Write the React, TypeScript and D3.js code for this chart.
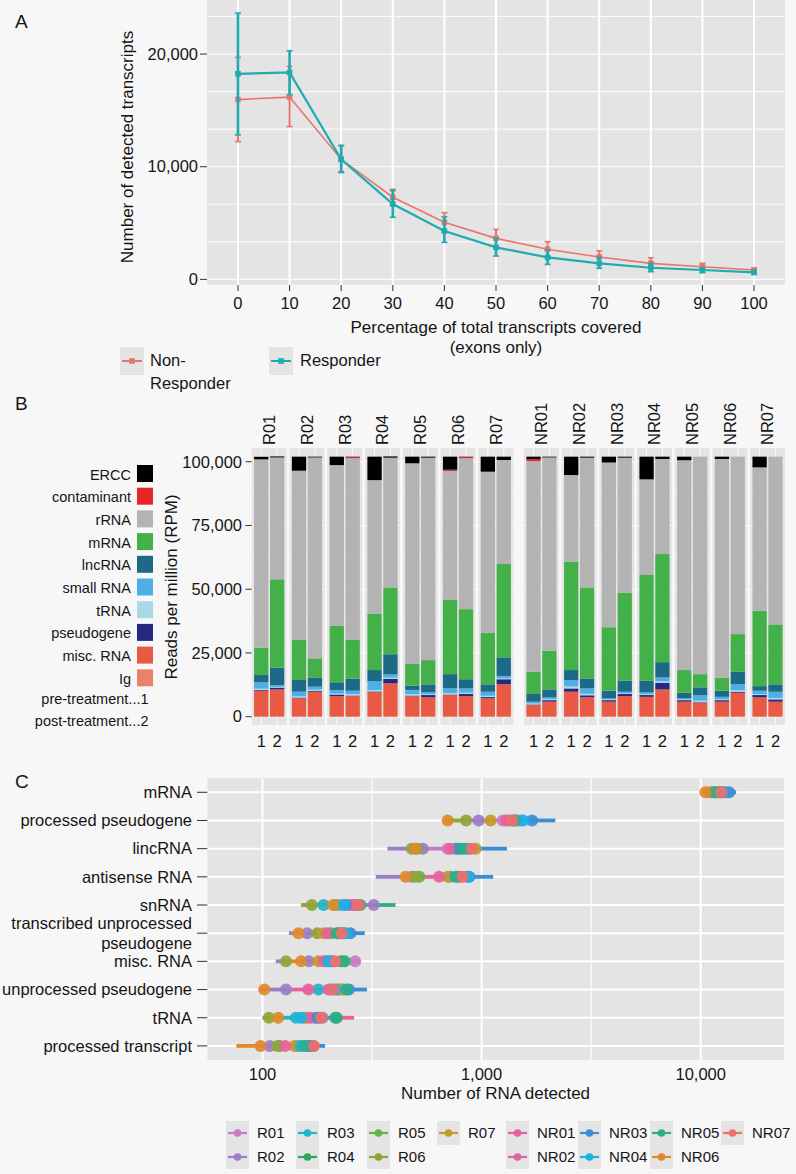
import React from "react";
import * as d3 from "d3";

const FONT = "'Liberation Sans', Arial, Helvetica, sans-serif";
const BG = "#f7f7f7";
const PANEL = "#e4e4e4";
const TXT = "#151515";
const TICK = "#333333";

// ---------------- Panel A data ----------------
const coveragePct = [0, 10, 20, 30, 40, 50, 60, 70, 80, 90, 100];
const groupNames = ["Non-Responder", "Responder"];
const groupColors = ["#e8756d", "#1fabb0"];
const nonResponderMean = [15960, 16180, 10660, 7290, 5070, 3640, 2670, 1980, 1420, 1120, 830];
const nonResponderLow = [12230, 13560, 9560, 6600, 4230, 2900, 2010, 1420, 980, 830, 650];
const nonResponderHigh = [19700, 18900, 11860, 8000, 5920, 4440, 3340, 2540, 1920, 1420, 1000];
const responderMean = [18250, 18370, 10660, 6690, 4290, 2840, 1950, 1420, 1030, 830, 620];
const responderLow = [12830, 16400, 9480, 5510, 3290, 2070, 1330, 980, 680, 590, 440];
const responderHigh = [23640, 20290, 11900, 7880, 5560, 3640, 2600, 1950, 1420, 1030, 800];
const yTicksA = [0, 10000, 20000];

// ---------------- Panel B data ----------------
const responderIds = ["R01", "R02", "R03", "R04", "R05", "R06", "R07"];
const nonResponderIds = ["NR01", "NR02", "NR03", "NR04", "NR05", "NR06", "NR07"];
const timepoints = ["1", "2"];
const rnaClasses = ["ERCC", "contaminant", "rRNA", "mRNA", "lncRNA", "small RNA", "tRNA", "pseudogene", "misc. RNA", "Ig"];
const rnaClassColors = ["#000000", "#e8262a", "#b3b3b3", "#44b04a", "#1d6a86", "#4eaee6", "#a7d9e6", "#27287f", "#e85a43", "#e8826a"];
const timepointNotes = ["pre-treatment...1", "post-treatment...2"];
// bar order: R01-1, R01-2, R02-1, ... NR07-2
const erccRPM = [1000, 400, 5500, 300, 3300, 100, 9200, 500, 2600, 400, 5100, 100, 5900, 1300, 900, 300, 7200, 400, 2300, 400, 8900, 900, 1400, 0, 900, 0, 4200, 0];
const contaminantRPM = [0, 0, 0, 0, 0, 500, 0, 0, 0, 0, 500, 500, 0, 0, 800, 0, 0, 0, 0, 0, 0, 0, 0, 0, 0, 0, 0, 0];
const rrnaRPM = [73900, 47800, 66400, 78800, 63100, 71300, 52500, 50900, 78700, 79400, 50600, 59200, 63100, 40800, 82700, 75800, 34000, 50900, 64600, 53000, 37500, 37300, 82300, 85300, 85800, 69600, 56200, 65800];
const mrnaRPM = [10700, 34700, 15700, 7500, 22100, 15200, 22000, 26200, 8500, 9500, 29100, 27500, 20300, 36600, 8700, 15200, 42500, 35700, 24900, 34500, 41500, 42400, 8900, 5200, 5100, 14800, 29600, 23500];
const lncrnaRPM = [2850, 6800, 4600, 3600, 3000, 4700, 4300, 7900, 1700, 3100, 5600, 3600, 2900, 7300, 3000, 3100, 3900, 3900, 3000, 4300, 4500, 6000, 2200, 3100, 2400, 4900, 1800, 2900];
const smallRnaRPM = [2500, 700, 1800, 1200, 1400, 1300, 3500, 1300, 1600, 800, 1800, 1700, 1600, 900, 700, 700, 2500, 2100, 400, 600, 700, 1500, 400, 2100, 900, 2300, 1300, 2400];
const trnaRPM = [500, 300, 500, 500, 400, 600, 600, 500, 600, 300, 600, 500, 500, 400, 400, 400, 800, 600, 300, 300, 400, 600, 300, 600, 400, 600, 400, 600];
const pseudogeneRPM = [300, 700, 300, 300, 600, 200, 300, 1700, 200, 900, 200, 800, 500, 2000, 200, 600, 1300, 800, 600, 800, 700, 2600, 600, 200, 600, 400, 900, 900];
const miscRnaRPM = [10200, 10700, 7200, 9800, 8100, 8100, 9600, 13100, 8100, 7600, 8500, 8100, 7200, 12700, 4600, 5900, 9800, 7600, 5900, 8100, 7800, 10700, 5900, 5500, 5900, 9400, 7600, 5900];
const igRPM = [0, 0, 0, 0, 0, 0, 0, 0, 0, 0, 0, 0, 0, 0, 0, 0, 0, 0, 0, 0, 0, 0, 0, 0, 0, 0, 0, 0];
const yTicksB = [0, 25000, 50000, 75000, 100000];

// ---------------- Panel C data ----------------
const rnaTypes = ["mRNA", "processed pseudogene", "lincRNA", "antisense RNA", "snRNA", "transcribed unprocessed pseudogene", "misc. RNA", "unprocessed pseudogene", "tRNA", "processed transcript"];
const rnaTypeLabels = [["mRNA"], ["processed pseudogene"], ["lincRNA"], ["antisense RNA"], ["snRNA"], ["transcribed unprocessed", "pseudogene"], ["misc. RNA"], ["unprocessed pseudogene"], ["tRNA"], ["processed transcript"]];
const sampleIds = ["R01", "R02", "R03", "R04", "R05", "R06", "R07", "NR01", "NR02", "NR03", "NR04", "NR05", "NR06", "NR07"];
const sampleColors = ["#c77dc4", "#9c7dc8", "#22b5c5", "#2aa85c", "#5eb548", "#8fa637", "#c49a2c", "#e8619b", "#d866a7", "#3b8ed6", "#1db1e6", "#28b08a", "#e08a2a", "#ef6f6a"];
const mrnaDetected = [12000, 11500, 12200, 12300, 11800, 11000, 11200, 12800, 13000, 13500, 12600, 11600, 10500, 12400];
const processedPseudogeneDetected = [1250, 970, 1500, 1400, 1350, 850, 1100, 1300, 1450, 1700, 1550, 1420, 700, 1380];
const lincRnaDetected = [700, 540, 760, 780, 510, 480, 940, 720, 870, 800, 850, 820, 500, 900];
const antisenseDetected = [850, 480, 720, 780, 520, 500, 700, 640, 800, 880, 870, 760, 450, 820];
const snRnaDetected = [225, 322, 190, 265, 215, 168, 270, 250, 260, 240, 235, 280, 210, 275];
const transcribedUnprocessedDetected = [232, 160, 225, 222, 205, 178, 190, 198, 236, 252, 240, 218, 146, 230];
const miscRnaDetected = [265, 163, 195, 228, 238, 128, 180, 190, 208, 205, 200, 235, 150, 215];
const unprocessedPseudogeneDetected = [205, 128, 180, 220, 225, 235, 230, 162, 200, 248, 215, 242, 102, 210];
const trnaDetected = [172, 188, 142, 218, 155, 107, 160, 165, 180, 178, 150, 215, 118, 185];
const processedTranscriptDetected = [158, 108, 145, 170, 120, 117, 140, 127, 160, 165, 150, 155, 98, 172];
const rangeLowValue = [10200, 680, 372, 329, 150, 132, 115, 96, 100, 76];
const rangeLowSample = ["NR06", "NR06", "R02", "R02", "R06", "R02", "R02", "NR01", "R06", "NR06"];
const rangeHighValue = [14500, 2170, 1306, 1130, 405, 293, 279, 300, 262, 193];
const rangeHighSample = ["NR03", "NR03", "NR03", "NR03", "NR05", "NR03", "R01", "NR03", "NR01", "NR03"];
const xTicksC = [100, 1000, 10000];

export default function App() {
  // ===== Panel A =====
  const xA = d3.scaleLinear().domain([-6, 106]).range([207, 785]);
  const yA = d3.scaleLinear().domain([-500, 24800]).range([285, 0]);
  const groupsA = [
    { mean: nonResponderMean, lo: nonResponderLow, hi: nonResponderHigh, color: groupColors[0], lw: 1.6, ew: 2 },
    { mean: responderMean, lo: responderLow, hi: responderHigh, color: groupColors[1], lw: 2.2, ew: 2.6 },
  ];
  const lineA = d3.line<[number, number]>().x((d) => xA(d[0])).y((d) => yA(d[1]));
  const gridA = d3.range(0, 24800, 10000 / 3);

  // ===== Panel B =====
  const yB = d3.scaleLinear().domain([-3250, 105400]).range([725, 448]);
  const rFacet = d3.scaleBand<string>().domain(responderIds).range([251.7, 513.3]).paddingInner(0.0733);
  const nrFacet = d3.scaleBand<string>().domain(nonResponderIds).range([524, 785]).paddingInner(0.0733);
  const facets = [
    ...responderIds.map((id) => ({ id, x0: rFacet(id) as number, w: rFacet.bandwidth() })),
    ...nonResponderIds.map((id) => ({ id, x0: nrFacet(id) as number, w: nrFacet.bandwidth() })),
  ];
  const seriesByClass: Record<string, number[]> = {
    ERCC: erccRPM, contaminant: contaminantRPM, rRNA: rrnaRPM, mRNA: mrnaRPM, lncRNA: lncrnaRPM,
    "small RNA": smallRnaRPM, tRNA: trnaRPM, pseudogene: pseudogeneRPM, "misc. RNA": miscRnaRPM, Ig: igRPM,
  };
  const stackKeys = [...rnaClasses].reverse();
  const rows = erccRPM.map((_, k) => {
    const r: Record<string, number> = {};
    rnaClasses.forEach((c) => (r[c] = seriesByClass[c][k]));
    return r;
  });
  const stacked = d3.stack<Record<string, number>>().keys(stackKeys)(rows);
  const colorOf = (c: string) => rnaClassColors[rnaClasses.indexOf(c)];
  const gridB = d3.range(0, 105400, 12500);

  // ===== Panel C =====
  const xC = d3.scaleLog().domain([56, 24000]).range([207.3, 784]);
  const yC = d3.scaleBand<string>().domain(rnaTypes).range([778.2, 1060]);
  const detected = [mrnaDetected, processedPseudogeneDetected, lincRnaDetected, antisenseDetected, snRnaDetected, transcribedUnprocessedDetected, miscRnaDetected, unprocessedPseudogeneDetected, trnaDetected, processedTranscriptDetected];
  const gridCMajor = [100, 1000, 10000];
  const gridCMinor = [Math.pow(10, 2.5), Math.pow(10, 3.5)];
  const sampleColor = (id: string) => sampleColors[sampleIds.indexOf(id)];
  const legendCols: (string | null)[][] = [
    ...d3.range(0, responderIds.length, 2).map((i) => [responderIds[i], responderIds[i + 1] ?? null]),
    ...d3.range(0, nonResponderIds.length, 2).map((i) => [nonResponderIds[i], nonResponderIds[i + 1] ?? null]),
  ];
  const legendColX = [226, 296, 367, 437, 506, 578, 650, 721];
  const fmt = d3.format(",");

  const tickFont = 16.5;

  return (
    <svg width={796} height={1174} style={{ position: "absolute", left: 0, top: 0, display: "block" }} fontFamily={FONT}>
      <rect x={0} y={0} width={796} height={1174} fill={BG} />

      {/* ================= PANEL A ================= */}
      <text x={15} y={28} fontSize={19} fill={TXT}>A</text>
      <rect x={207} y={0} width={578} height={285} fill={PANEL} />
      {gridA.map((v, i) => (
        <line key={"ga" + i} x1={207} x2={785} y1={yA(v)} y2={yA(v)} stroke="#fff" strokeWidth={1.2} opacity={0.85} />
      ))}
      {coveragePct.map((c) => (
        <line key={"gva" + c} x1={xA(c)} x2={xA(c)} y1={0} y2={285} stroke="#fff" strokeWidth={2} />
      ))}
      {groupsA.map((g, gi) => (
        <g key={"grpA" + gi}>
          <path d={lineA(coveragePct.map((c, i) => [c, g.mean[i]] as [number, number])) || ""} fill="none" stroke={g.color} strokeWidth={g.lw} />
          {coveragePct.map((c, i) => (
            <g key={"eb" + i}>
              <line x1={xA(c)} x2={xA(c)} y1={yA(g.lo[i])} y2={yA(g.hi[i])} stroke={g.color} strokeWidth={g.ew} />
              <line x1={xA(c) - 3} x2={xA(c) + 3} y1={yA(g.lo[i])} y2={yA(g.lo[i])} stroke={g.color} strokeWidth={1.6} />
              <line x1={xA(c) - 3} x2={xA(c) + 3} y1={yA(g.hi[i])} y2={yA(g.hi[i])} stroke={g.color} strokeWidth={1.6} />
              <rect x={xA(c) - 2.8} y={yA(g.mean[i]) - 2.8} width={5.6} height={5.6} fill={g.color} />
            </g>
          ))}
        </g>
      ))}
      {yTicksA.map((v) => (
        <g key={"yta" + v}>
          <line x1={200} x2={207} y1={yA(v)} y2={yA(v)} stroke={TICK} />
          <text x={198} y={yA(v)} dy="0.35em" textAnchor="end" fontSize={tickFont} fill={TXT}>{fmt(v)}</text>
        </g>
      ))}
      {coveragePct.map((c) => (
        <g key={"xta" + c}>
          <line x1={xA(c)} x2={xA(c)} y1={285} y2={291} stroke={TICK} />
          <text x={xA(c)} y={309} textAnchor="middle" fontSize={tickFont} fill={TXT}>{c}</text>
        </g>
      ))}
      <text transform={`translate(133,147) rotate(-90)`} textAnchor="middle" fontSize={17} fill={TXT}>Number of detected transcripts</text>
      <text x={496} y={333} textAnchor="middle" fontSize={17} fill={TXT}>Percentage of total transcripts covered</text>
      <text x={496} y={353} textAnchor="middle" fontSize={17} fill={TXT}>(exons only)</text>
      {/* legend A */}
      {groupNames.map((name, gi) => {
        const kx = gi === 0 ? 120 : 269;
        return (
          <g key={"lgA" + gi}>
            <rect x={kx} y={347} width={24} height={28} fill={PANEL} />
            <line x1={kx + 2} x2={kx + 22} y1={361} y2={361} stroke={groupColors[gi]} strokeWidth={2} />
            <rect x={kx + 9.2} y={358.2} width={5.6} height={5.6} fill={groupColors[gi]} />
            {gi === 0 ? (
              <>
                <text x={150} y={366} fontSize={tickFont} fill={TXT}>Non-</text>
                <text x={150} y={389} fontSize={tickFont} fill={TXT}>Responder</text>
              </>
            ) : (
              <text x={300} y={366} fontSize={tickFont} fill={TXT}>{name}</text>
            )}
          </g>
        );
      })}

      {/* ================= PANEL B ================= */}
      <text x={15} y={410} fontSize={19} fill={TXT}>B</text>
      {facets.map((f, fi) => {
        const xIn = d3.scaleLinear().domain([0.4, 2.6]).range([f.x0, f.x0 + f.w]);
        return (
          <g key={"fac" + f.id}>
            <rect x={f.x0} y={448} width={f.w} height={277} fill={PANEL} />
            {gridB.map((v, i) => (
              <line key={"gb" + i} x1={f.x0} x2={f.x0 + f.w} y1={yB(v)} y2={yB(v)} stroke="#fff" strokeWidth={i % 2 === 0 ? 1.1 : 0.6} opacity={0.8} />
            ))}
            {[1, 2].map((t) => (
              <line key={"gvb" + t} x1={xIn(t)} x2={xIn(t)} y1={448} y2={725} stroke="#fff" strokeWidth={1.1} opacity={0.8} />
            ))}
            {timepoints.map((tp, ti) => {
              const k = fi * 2 + ti;
              const bx = xIn(ti + 1 - 0.45);
              const bw = xIn(ti + 1 + 0.45) - bx;
              return (
                <g key={"bar" + k}>
                  {stacked.map((s) => {
                    const d = s[k];
                    const h = yB(d[0]) - yB(d[1]);
                    if (h <= 0) return null;
                    return <rect key={s.key} x={bx} y={yB(d[1])} width={bw} height={h} fill={colorOf(s.key)} />;
                  })}
                  <text x={xIn(ti + 1)} y={747} textAnchor="middle" fontSize={tickFont} fill={TXT}>{tp}</text>
                </g>
              );
            })}
            <text transform={`translate(${f.x0 + f.w / 2},445) rotate(-90)`} dy="0.35em" textAnchor="start" fontSize={tickFont} fill={TXT}>{f.id}</text>
          </g>
        );
      })}
      {yTicksB.map((v) => (
        <g key={"ytb" + v}>
          <line x1={245.5} x2={251.7} y1={yB(v)} y2={yB(v)} stroke={TICK} />
          <text x={242} y={yB(v)} dy="0.35em" textAnchor="end" fontSize={tickFont} fill={TXT}>{fmt(v)}</text>
        </g>
      ))}
      <text transform={`translate(177,587) rotate(-90)`} textAnchor="middle" fontSize={17} fill={TXT}>Reads per million (RPM)</text>
      {/* legend B */}
      {rnaClasses.map((c, i) => {
        const top = 465 + i * 22.7;
        return (
          <g key={"lgB" + c}>
            <rect x={137} y={top} width={16} height={17} fill={rnaClassColors[i]} />
            <text x={131} y={top + 14.5} textAnchor="end" fontSize={14.5} fill={TXT}>{c}</text>
          </g>
        );
      })}
      {timepointNotes.map((t, i) => (
        <text key={"tpn" + i} x={148.5} y={703.5 + i * 22.5} textAnchor="end" fontSize={14.5} fill={TXT}>{t}</text>
      ))}

      {/* ================= PANEL C ================= */}
      <text x={15} y={788} fontSize={19} fill={TXT}>C</text>
      <rect x={207.3} y={778.2} width={576.7} height={281.8} fill={PANEL} />
      {gridCMinor.map((v, i) => (
        <line key={"gcm" + i} x1={xC(v)} x2={xC(v)} y1={778.2} y2={1060} stroke="#fff" strokeWidth={1.3} opacity={0.9} />
      ))}
      {gridCMajor.map((v) => (
        <line key={"gcM" + v} x1={xC(v)} x2={xC(v)} y1={778.2} y2={1060} stroke="#fff" strokeWidth={2} />
      ))}
      {rnaTypes.map((t) => {
        const cy = (yC(t) as number) + yC.bandwidth() / 2;
        return <line key={"gch" + t} x1={207.3} x2={784} y1={cy} y2={cy} stroke="#fff" strokeWidth={2} />;
      })}
      {rnaTypes.map((t, r) => {
        const cy = (yC(t) as number) + yC.bandwidth() / 2;
        const vals = detected[r];
        const order = d3.range(vals.length).sort((a, b) => vals[a] - vals[b]);
        const segs: { a: number; b: number; c: string }[] = [];
        segs.push({ a: rangeLowValue[r], b: vals[order[0]], c: sampleColor(rangeLowSample[r]) });
        segs.push({ a: vals[order[order.length - 1]], b: rangeHighValue[r], c: sampleColor(rangeHighSample[r]) });
        for (let k = 1; k < order.length; k++) segs.push({ a: vals[order[k - 1]], b: vals[order[k]], c: sampleColors[order[k]] });
        return (
          <g key={"rowC" + t}>
            {segs.map((s, i) => (
              <line key={"sg" + i} x1={xC(s.a)} x2={xC(s.b)} y1={cy} y2={cy} stroke={s.c} strokeWidth={3.8} />
            ))}
            {vals.map((v, i) => (
              <circle key={"pt" + i} cx={xC(v)} cy={cy} r={6} fill={sampleColors[i]} opacity={0.92} />
            ))}
          </g>
        );
      })}
      {rnaTypes.map((t, r) => {
        const cy = (yC(t) as number) + yC.bandwidth() / 2;
        const lines = rnaTypeLabels[r];
        return (
          <g key={"ylc" + t}>
            <line x1={197} x2={207.3} y1={cy} y2={cy} stroke={TICK} />
            {lines.length === 1 ? (
              <text x={192} y={cy} dy="0.35em" textAnchor="end" fontSize={tickFont} fill={TXT}>{lines[0]}</text>
            ) : (
              lines.map((l, li) => (
                <text key={li} x={192} y={cy - 10 + li * 20} dy="0.35em" textAnchor="end" fontSize={tickFont} fill={TXT}>{l}</text>
              ))
            )}
          </g>
        );
      })}
      {xTicksC.map((v) => (
        <text key={"xtc" + v} x={xC(v)} y={1080} textAnchor="middle" fontSize={tickFont} fill={TXT}>{fmt(v)}</text>
      ))}
      <text x={495.6} y={1099} textAnchor="middle" fontSize={17} fill={TXT}>Number of RNA detected</text>
      {/* legend C */}
      {legendCols.map((col, ci) =>
        col.map((id, ri) => {
          if (!id) return null;
          const kx = legendColX[ci];
          const cy = 1133 + ri * 24;
          const c = sampleColor(id);
          return (
            <g key={"lgC" + id}>
              <rect x={kx} y={cy - 12} width={23} height={24} fill={PANEL} />
              <line x1={kx + 2} x2={kx + 21} y1={cy} y2={cy} stroke={c} strokeWidth={2.2} />
              <circle cx={kx + 11.5} cy={cy} r={3.8} fill={c} />
              <text x={kx + 31} y={cy} dy="0.35em" fontSize={15} fill={TXT}>{id}</text>
            </g>
          );
        })
      )}
    </svg>
  );
}
